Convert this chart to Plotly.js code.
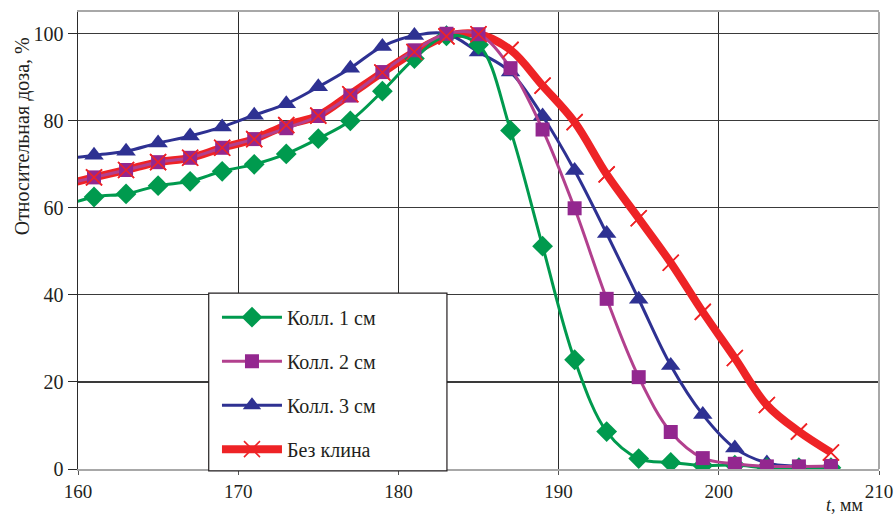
<!DOCTYPE html>
<html>
<head>
<meta charset="utf-8">
<script src="https://cdn.plot.ly/plotly-3.0.1.min.js"></script>
<style>
  html, body { margin: 0; padding: 0; background: #fff; }
  #chart { width: 896px; height: 517px; }
</style>
</head>
<body>
<div id="chart"></div>
<script>
// Depth positions, mm (the first point lies just left of the visible range)
const positions = [159, 161, 163, 165, 167, 169, 171, 173, 175, 177, 179, 181, 183,
                   185, 187, 189, 191, 193, 195, 197, 199, 201, 203, 205, 207];

// Relative dose, %
const coll1 = [60.3, 62.5, 63.2, 65.1, 66.1, 68.4, 70.0, 72.4, 75.9, 80.0, 86.8, 94.3, 99.5,
               97.5, 77.8, 51.2, 25.1, 8.6, 2.4, 1.5, 0.8, 0.9, 0.3, 0.3, 0.3];
const coll2 = [65.2, 67.0, 68.7, 70.5, 71.5, 73.8, 75.8, 78.3, 81.1, 85.8, 91.2, 96.2, 100.0,
               99.9, 92.1, 78.0, 59.9, 39.1, 21.1, 8.5, 2.5, 1.2, 0.6, 0.6, 0.7];
const coll3 = [71.1, 72.1, 73.0, 74.9, 76.5, 78.6, 81.3, 83.9, 87.8, 92.1, 97.1, 99.6, 100.0,
               95.8, 91.2, 81.1, 68.6, 54.1, 39.0, 23.8, 12.5, 4.8, 1.4, 0.6, 0.5];
const noWedge = [65.2, 67.0, 68.7, 70.5, 71.5, 73.8, 75.8, 79.0, 81.2, 86.1, 91.1, 95.8, 99.4,
                 99.9, 96.3, 88.1, 79.7, 67.7, 57.6, 47.4, 36.1, 25.5, 14.7, 8.6, 3.8];

const seriesNames = ['Колл. 1 см', 'Колл. 2 см', 'Колл. 3 см', 'Без клина'];
const xTicks = [160, 170, 180, 190, 200, 210];
const yTicks = [0, 20, 40, 60, 80, 100];

const FONT = 'Liberation Serif, serif';
const TEXT = '#231f20';
const GREEN = '#009a4e', PURPLE = '#93278f', PURPLE_LINE = '#b2408e',
      BLUE = '#2e3192', RED = '#ee2326';

const traces = [
  // thick red curve goes underneath everything else
  {
    x: positions, y: noWedge, name: seriesNames[3], mode: 'lines+markers',
    legendgroup: 'g4', legendrank: 4,
    line: {color: RED, width: 8, shape: 'spline', smoothing: 1},
    marker: {symbol: 'x-thin', size: 16, color: RED, line: {color: RED, width: 1.6}}
  },
  {
    x: positions, y: coll3, name: seriesNames[2], mode: 'lines+markers',
    legendgroup: 'g3', legendrank: 3,
    line: {color: BLUE, width: 3, shape: 'spline', smoothing: 1},
    marker: {symbol: 'triangle-up', size: 17, color: BLUE}
  },
  {
    x: positions, y: coll1, name: seriesNames[0], mode: 'lines+markers',
    legendgroup: 'g1', legendrank: 1,
    line: {color: GREEN, width: 3, shape: 'spline', smoothing: 1},
    marker: {symbol: 'diamond', size: 16, color: GREEN}
  },
  {
    x: positions, y: coll2, name: seriesNames[1], mode: 'lines+markers',
    legendgroup: 'g2', legendrank: 2,
    line: {color: PURPLE_LINE, width: 3, shape: 'spline', smoothing: 1},
    marker: {symbol: 'square', size: 14, color: PURPLE}
  },
  // red crosses repeated on top so they stay visible over the squares
  {
    x: positions, y: noWedge, name: seriesNames[3], mode: 'markers',
    legendgroup: 'g4', showlegend: false,
    marker: {symbol: 'x-thin', size: 16, color: RED, line: {color: RED, width: 1.6}}
  }
];

const layout = {
  width: 896, height: 517,
  margin: {l: 78, r: 17, t: 12, b: 48},
  paper_bgcolor: '#fff', plot_bgcolor: '#fff',
  font: {family: FONT, size: 20, color: TEXT},
  showlegend: true,
  hovermode: false,
  xaxis: {
    range: [160, 210], tickvals: xTicks, ticktext: xTicks.map(String),
    showgrid: true, gridcolor: '#2b2b2b', gridwidth: 1.2,
    zeroline: false,
    showline: true, linecolor: '#a8a8a8', linewidth: 2, mirror: true,
    ticks: 'outside', ticklen: 4, tickcolor: '#555', tickwidth: 1,
    tickfont: {family: FONT, size: 19, color: TEXT}
  },
  yaxis: {
    range: [0, 105], tickvals: yTicks, ticktext: yTicks.map(String),
    showgrid: true, gridcolor: '#3a3a3a', gridwidth: 1.2,
    zeroline: false,
    showline: true, linecolor: '#2b2b2b', linewidth: 1.5,
    ticks: 'outside', ticklen: 9, tickcolor: '#2b2b2b', tickwidth: 1,
    tickfont: {family: FONT, size: 20, color: TEXT}
  },
  legend: {
    x: 0.1735, y: 0.375, xanchor: 'left', yanchor: 'top',
    bgcolor: 'rgba(0,0,0,0)', borderwidth: 0,
    traceorder: 'grouped', tracegroupgap: 15,
    itemwidth: 60,
    font: {family: FONT, size: 20, color: TEXT}
  },
  shapes: [
    // right border of the plot frame
    {type: 'line', xref: 'paper', yref: 'paper', x0: 1, x1: 1, y0: 0, y1: 1,
     line: {color: '#a8a8a8', width: 2}, layer: 'above'},
    // legend frame
    {type: 'rect', xref: 'paper', yref: 'paper', x0: 0.1632, x1: 0.4606, y0: -0.004, y1: 0.385,
     line: {color: TEXT, width: 1.2}, fillcolor: '#fff', layer: 'above'}
  ],
  annotations: [
    {text: 'Относительная доза, %', xref: 'paper', yref: 'paper',
     x: -0.0699, y: 0.728, xanchor: 'center', yanchor: 'middle', textangle: -90,
     showarrow: false, font: {family: FONT, size: 20, color: TEXT}},
    {text: '<i>t</i>, мм', xref: 'paper', yref: 'paper',
     x: 0.982, y: -0.105, xanchor: 'right', yanchor: 'bottom',
     showarrow: false, font: {family: FONT, size: 18, color: TEXT}}
  ]
};

Plotly.newPlot('chart', traces, layout, {displayModeBar: false, staticPlot: true});
</script>
</body>
</html>
